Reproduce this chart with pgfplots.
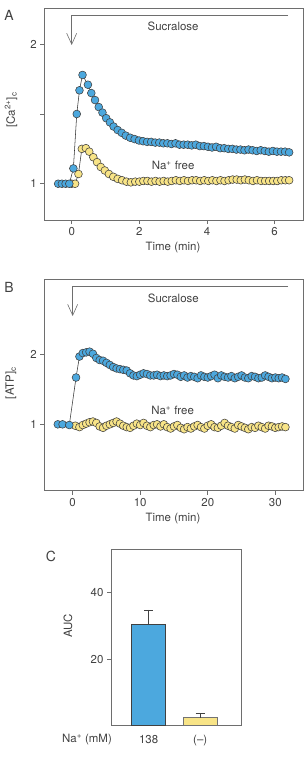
\documentclass[border=0pt]{standalone}
\usepackage{fontspec}
\setmainfont{TeX Gyre Heros}
\usepackage{pgfplots}
\pgfplotsset{compat=1.18}

\definecolor{cablue}{RGB}{76,168,222}
\definecolor{nayellow}{RGB}{248,228,135}
\definecolor{txt}{RGB}{65,65,65}
\definecolor{frame}{RGB}{110,110,110}

\tikzset{note/.style={font=\fontsize{11.5}{13}\selectfont, text=txt}}
\pgfplotsset{
  panel/.style={
    scale only axis, anchor=north west,
    axis line style={frame, line width=0.7pt},
    tick align=outside, xtick pos=bottom, ytick pos=left,
    major tick length=4bp,
    tick style={frame, line width=0.7pt},
    tick label style={font=\fontsize{11.5}{13}\selectfont, text=txt},
    /pgf/number format/assume math mode=true,
  },
  trace/.style={black!80, line width=0.55pt, mark=*, mark size=3.9bp,
    mark options={draw=black!75, line width=0.55pt, fill=#1}},
}

\begin{document}
\begin{tikzpicture}
\path[use as bounding box] (0,0) rectangle (306bp,-766bp);

% ---------------- Panel A: cytosolic Ca2+ ----------------
\begin{axis}[panel, at={(44.3bp,-8bp)}, width=258.7bp, height=212bp,
  xmin=-0.81, xmax=6.84, ymin=0.74, ymax=2.26,
  xtick={0,2,4,6}, ytick={1,1.5,2}, yticklabels={1,,2}]
\addplot[trace=nayellow] coordinates {
(0.00,1.00) (0.10,1.00) (0.20,1.07) (0.30,1.25) (0.42,1.255) (0.52,1.23)
(0.64,1.19) (0.75,1.155) (0.86,1.12) (0.98,1.095) (1.10,1.07) (1.23,1.05)
(1.36,1.035) (1.49,1.025) (1.62,1.015) (1.75,1.01) (1.88,1.015) (2.00,1.015)
(2.12,1.02) (2.24,1.02) (2.36,1.015) (2.48,1.02) (2.60,1.015) (2.72,1.02)
(2.84,1.015) (2.96,1.02) (3.08,1.025) (3.20,1.02) (3.32,1.025) (3.44,1.02)
(3.56,1.025) (3.68,1.025) (3.80,1.02) (3.92,1.025) (4.04,1.02) (4.16,1.025)
(4.28,1.02) (4.40,1.025) (4.52,1.02) (4.64,1.025) (4.76,1.03) (4.88,1.03)
(5.00,1.025) (5.12,1.03) (5.24,1.025) (5.36,1.02) (5.48,1.025) (5.60,1.02)
(5.72,1.02) (5.84,1.02) (5.96,1.02) (6.08,1.02) (6.20,1.025) (6.32,1.025)
(6.43,1.025)};
\addplot[trace=cablue] coordinates {
(-0.40,1.00) (-0.29,1.00) (-0.18,1.00) (-0.07,1.00) (0.05,1.11) (0.15,1.50)
(0.23,1.67) (0.32,1.78) (0.48,1.71) (0.58,1.65) (0.69,1.60) (0.80,1.55)
(0.91,1.51) (1.02,1.47) (1.13,1.44) (1.24,1.41) (1.36,1.385) (1.48,1.365)
(1.60,1.345) (1.73,1.33) (1.86,1.32) (1.99,1.31) (2.11,1.305) (2.23,1.30)
(2.35,1.30) (2.47,1.295) (2.59,1.295) (2.71,1.29) (2.83,1.29) (2.95,1.285)
(3.07,1.29) (3.19,1.28) (3.31,1.28) (3.43,1.28) (3.55,1.275) (3.67,1.28)
(3.79,1.27) (3.91,1.27) (4.03,1.265) (4.15,1.26) (4.27,1.265) (4.39,1.255)
(4.51,1.255) (4.63,1.25) (4.75,1.25) (4.87,1.245) (4.99,1.245) (5.11,1.24)
(5.23,1.245) (5.35,1.24) (5.47,1.235) (5.59,1.24) (5.71,1.235) (5.83,1.23)
(5.95,1.235) (6.07,1.23) (6.19,1.23) (6.31,1.23) (6.43,1.225)};
% sucralose application
\draw[frame, line width=0.6pt] (axis cs:6.4,2.21) -- (axis cs:0,2.21) -- (axis cs:0,2.0);
\draw[frame, line width=0.6pt] (axis cs:0,2.0) ++(-5bp,11bp) -- (axis cs:0,2.0) -- ++(5bp,11bp);
\node[note] at (axis cs:3.0,2.13) {Sucralose};
\node[note] at (axis cs:3.0,1.13) {Na\textsuperscript{+} free};
\end{axis}
\node[font=\fontsize{14}{16}\selectfont, text=txt] at (9bp,-15bp) {A};
\node[note, rotate=90] at (11bp,-110bp) {[Ca\textsuperscript{2+}]\textsubscript{c}};
\node[note] at (173bp,-248bp) {Time (min)};

% ---------------- Panel B: cytosolic ATP ----------------
\begin{axis}[panel, at={(44.3bp,-279bp)}, width=258.7bp, height=211.7bp,
  xmin=-4.2, xmax=34.1, ymin=0.05, ymax=3.08,
  xtick={0,10,20,30}, ytick={1,2}]
\addplot[trace=nayellow] coordinates {
(0.4,0.98) (1.0,0.96) (1.5,0.99) (2.0,1.01) (2.5,1.03) (3.0,1.04) (3.5,1.02)
(4.0,0.97) (4.5,0.95) (5.0,0.98) (5.5,1.00) (6.0,1.02) (6.5,1.04) (7.0,1.01)
(7.5,0.98) (8.0,0.96) (8.5,0.95) (9.0,0.98) (9.5,1.01) (10.0,0.99) (10.5,1.02)
(11.0,0.98) (11.5,0.96) (12.0,0.99) (12.5,1.00) (13.0,0.97) (13.5,1.00)
(14.0,0.96) (14.5,0.94) (15.0,0.97) (15.5,0.99) (16.0,0.95) (16.5,0.93)
(17.0,0.96) (17.5,0.94) (18.0,0.97) (18.5,0.99) (19.0,0.96) (19.5,0.94)
(20.0,0.98) (20.5,1.00) (21.0,0.96) (21.5,0.95) (22.0,0.98) (22.5,1.02)
(23.0,0.98) (23.5,0.96) (24.0,0.94) (24.5,0.99) (25.0,0.97) (25.5,0.95)
(26.0,0.93) (26.5,0.96) (27.0,0.95) (27.5,0.98) (28.0,0.96) (28.5,0.94)
(29.0,0.98) (29.5,0.97) (30.0,0.95) (30.5,0.96) (31.0,0.97) (31.5,0.96)};
\addplot[trace=cablue] coordinates {
(-2.2,1.00) (-1.5,1.00) (-0.5,0.99) (0.5,1.67) (1.0,1.97) (1.5,2.02) (2.0,2.03)
(2.5,2.04) (3.0,2.01) (3.5,1.95) (4.0,1.92) (4.5,1.91) (5.0,1.88) (5.5,1.85)
(6.0,1.82) (6.5,1.80) (7.0,1.79) (7.5,1.78) (8.0,1.77) (8.5,1.73) (9.0,1.70)
(9.5,1.69) (10.0,1.71) (10.5,1.73) (11.0,1.72) (11.5,1.70) (12.0,1.70)
(12.5,1.71) (13.0,1.69) (13.5,1.70) (14.0,1.69) (14.5,1.70) (15.0,1.72)
(15.5,1.71) (16.0,1.68) (16.5,1.70) (17.0,1.67) (17.5,1.69) (18.0,1.68)
(18.5,1.66) (19.0,1.70) (19.5,1.68) (20.0,1.67) (20.5,1.69) (21.0,1.71)
(21.5,1.66) (22.0,1.70) (22.5,1.68) (23.0,1.67) (23.5,1.69) (24.0,1.66)
(24.5,1.68) (25.0,1.70) (25.5,1.67) (26.0,1.66) (26.5,1.69) (27.0,1.68)
(27.5,1.66) (28.0,1.67) (28.5,1.70) (29.0,1.68) (29.5,1.66) (30.0,1.67)
(30.5,1.66) (31.0,1.67) (31.5,1.65)};
\draw[frame, line width=0.6pt] (axis cs:31.9,2.98) -- (axis cs:0,2.98) -- (axis cs:0,2.56);
\draw[frame, line width=0.6pt] (axis cs:0,2.56) ++(-5bp,11bp) -- (axis cs:0,2.56) -- ++(5bp,11bp);
\node[note] at (axis cs:14.9,2.81) {Sucralose};
\node[note] at (axis cs:14.8,1.2) {Na\textsuperscript{+} free};
\end{axis}
\node[font=\fontsize{14}{16}\selectfont, text=txt] at (9bp,-287bp) {B};
\node[note, rotate=90] at (11bp,-383bp) {[ATP]\textsubscript{c}};
\node[note] at (173bp,-518.5bp) {Time (min)};

% ---------------- Panel C: area under the curve ----------------
\begin{axis}[panel, at={(111bp,-549.3bp)}, width=130bp, height=176.4bp,
  xmin=0.27, xmax=2.79, ymin=0, ymax=53,
  xtick={1,2}, xticklabels={138,(–)}, ytick={20,40},
  xtick style={draw=none}, xticklabel style={yshift=-2bp},
  ybar, bar width=34bp,
  error bars/error bar style={txt, line width=0.7pt},
  error bars/error mark options={rotate=90, mark size=4.5bp, line width=0.7pt, txt}]
\addplot[bar shift=0pt, fill=cablue, draw=black!75, line width=0.6pt,
  error bars/.cd, y dir=plus, y explicit]
  coordinates {(1,30.4) +- (0,4.4)};
\addplot[bar shift=0pt, fill=nayellow, draw=black!55, line width=0.6pt,
  error bars/.cd, y dir=plus, y explicit]
  coordinates {(2,2.4) +- (0,1.4)};
\end{axis}
\node[font=\fontsize{14}{16}\selectfont, text=txt] at (51bp,-556bp) {C};
\node[note, rotate=90] at (68bp,-626bp) {AUC};
\node[note] at (87bp,-740bp) {Na\textsuperscript{+} (mM)};
\end{tikzpicture}
\end{document}
